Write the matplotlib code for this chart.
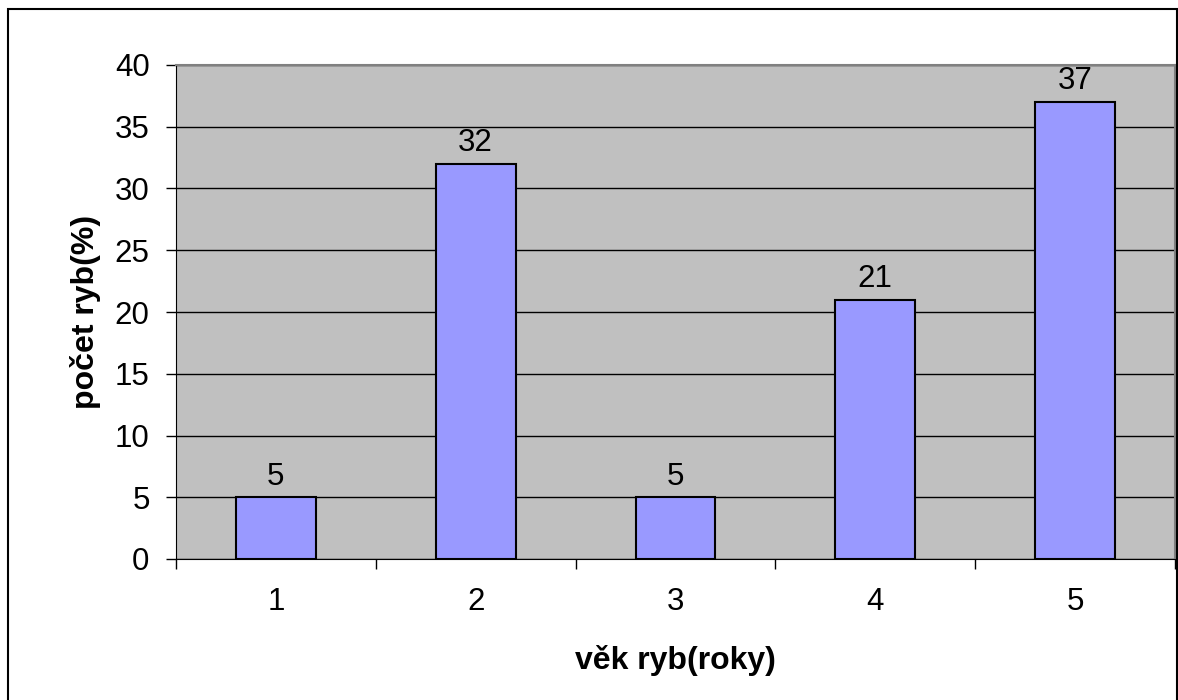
import matplotlib.pyplot as plt
from matplotlib.patches import Rectangle

plt.rcParams['font.family'] = ['Liberation Sans', 'DejaVu Sans']

vek = [1, 2, 3, 4, 5]
pocet = [5, 32, 5, 21, 37]

fig = plt.figure(figsize=(11.78, 7.0), dpi=100)
fig.patch.set_facecolor('white')

# chart border
fig.add_artist(Rectangle((8 / 1178, -0.05), 1169 / 1178, 1.05 - 9 / 700,
                         transform=fig.transFigure, fill=False,
                         edgecolor='black', linewidth=1.5))

ax = fig.add_axes([176 / 1178, 141 / 700, 999 / 1178, 494 / 700])
ax.set_facecolor('#C0C0C0')
ax.set_axisbelow(True)
ax.yaxis.grid(True, color='black', linewidth=1)

ax.bar(vek, pocet, width=0.4, color='#9999FF', edgecolor='black', linewidth=1.5)
for x, v in zip(vek, pocet):
    ax.annotate(str(v), (x, v), xytext=(0, 4), textcoords='offset points',
                ha='center', va='bottom', fontsize=22.5)

ax.set_xlim(0.5, 5.5)
ax.set_ylim(0, 40)
ax.set_yticks(range(0, 41, 5))
ax.set_xticks(vek)
ax.set_xticks([0.5 + i for i in range(6)], minor=True)
ax.tick_params(axis='x', which='major', length=0, pad=20, labelsize=22.5)
ax.tick_params(axis='x', which='minor', length=7, direction='out', width=1)
ax.tick_params(axis='y', length=7, direction='out', width=1, pad=12, labelsize=22.5)

for side in ['top', 'right']:
    ax.spines[side].set_color('#808080')
    ax.spines[side].set_linewidth(1.5)
for side in ['left', 'bottom']:
    ax.spines[side].set_color('black')

ax.set_xlabel('věk ryb(roky)', fontsize=23, fontweight='bold', labelpad=20)
ax.set_ylabel('počet ryb(%)', fontsize=23, fontweight='bold', labelpad=10)

fig.savefig('out.png', dpi=100)
